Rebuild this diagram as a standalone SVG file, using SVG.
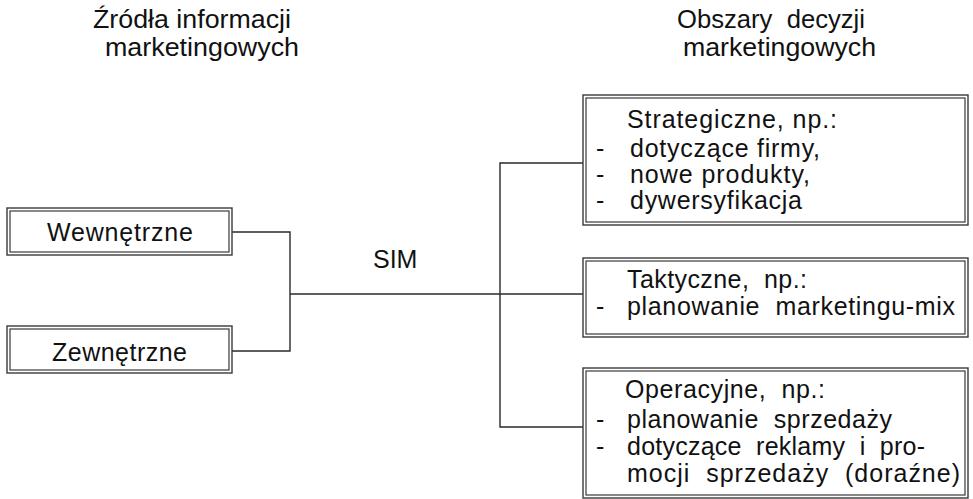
<svg xmlns="http://www.w3.org/2000/svg" width="973" height="499" viewBox="0 0 973 499">
<style>
.bg{fill:#ffffff}
.outer{fill:none;stroke:#3a3a3a;stroke-width:1.4}
.inner{fill:#ffffff;stroke:#3a3a3a;stroke-width:1.2}
.t{font-family:"Liberation Sans",Arial,sans-serif;font-size:25px;fill:#111111;white-space:pre}
.h{font-family:"Liberation Sans",Arial,sans-serif;font-size:26px;fill:#111111;white-space:pre}
.conn{fill:none;stroke:#2a2a2a;stroke-width:1.4}
</style>
<rect class="bg" x="0" y="0" width="973" height="499"/>
<g id="headers">
<text class="h" x="93" y="28" textLength="198" lengthAdjust="spacingAndGlyphs">Źródła informacji</text>
<text class="h" x="105" y="56" textLength="194" lengthAdjust="spacingAndGlyphs">marketingowych</text>
<text class="h" x="677" y="28" textLength="188" lengthAdjust="spacingAndGlyphs" xml:space="preserve">Obszary  decyzji</text>
<text class="h" x="683" y="56" textLength="193" lengthAdjust="spacingAndGlyphs">marketingowych</text>
</g>
<g id="connectors">
<polyline class="conn" points="232,232 290,232 290,351 232,351"/>
<line class="conn" x1="290" y1="294" x2="583" y2="294"/>
<polyline class="conn" points="583,163 500,163 500,427 583,427"/>
</g>
<g id="sim">
<text class="t" x="373" y="268">SIM</text>
</g>
<g id="wewnetrzne">
<rect class="outer" x="7" y="208" width="225" height="47"/>
<rect class="inner" x="10" y="211" width="219" height="41"/>
<text class="t" x="47" y="241" textLength="146">Wewnętrzne</text>
</g>
<g id="zewnetrzne">
<rect class="outer" x="7" y="326" width="225" height="47"/>
<rect class="inner" x="10" y="329" width="219" height="41"/>
<text class="t" x="52" y="361" textLength="135">Zewnętrzne</text>
</g>
<g id="strategiczne">
<rect class="outer" x="583" y="95" width="385" height="130"/>
<rect class="inner" x="586" y="98" width="379" height="124"/>
<text class="t" x="627" y="128" textLength="210">Strategiczne, np.:</text>
<text class="t" x="596" y="157">-</text>
<text class="t" x="630" y="157" textLength="190">dotyczące firmy,</text>
<text class="t" x="596" y="183">-</text>
<text class="t" x="630" y="183" textLength="180">nowe produkty,</text>
<text class="t" x="596" y="209">-</text>
<text class="t" x="630" y="209" textLength="172">dywersyfikacja</text>
</g>
<g id="taktyczne">
<rect class="outer" x="583" y="258" width="385" height="79"/>
<rect class="inner" x="586" y="261" width="379" height="73"/>
<text class="t" x="627" y="288" textLength="180" xml:space="preserve">Taktyczne,  np.:</text>
<text class="t" x="596" y="315">-</text>
<text class="t" x="627" y="315" textLength="328" xml:space="preserve">planowanie  marketingu-mix</text>
</g>
<g id="operacyjne">
<rect class="outer" x="583" y="368" width="385" height="130"/>
<rect class="inner" x="586" y="371" width="379" height="124"/>
<text class="t" x="625" y="398" textLength="200" xml:space="preserve">Operacyjne,  np.:</text>
<text class="t" x="596" y="428">-</text>
<text class="t" x="627" y="428" textLength="265" xml:space="preserve">planowanie  sprzedaży</text>
<text class="t" x="596" y="455">-</text>
<text class="t" x="627" y="455" textLength="298" xml:space="preserve">dotyczące  reklamy  i  pro-</text>
<text class="t" x="627" y="482" textLength="333" xml:space="preserve">mocji  sprzedaży  (doraźne)</text>
</g>
</svg>
